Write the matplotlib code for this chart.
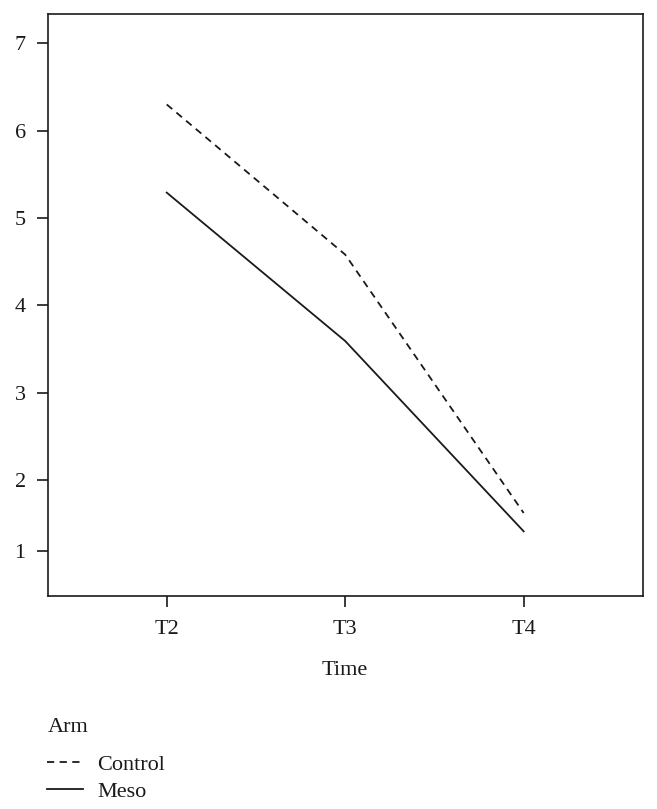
import matplotlib
matplotlib.use("Agg")
import matplotlib.pyplot as plt

times = ["T2", "T3", "T4"]
control = [6.30, 4.58, 1.62]
meso = [5.29, 3.59, 1.41]
ytick_labels = ["1", "2", "3", "4", "5", "6", "7"]
ytick_pos = [1.18, 2, 3, 4, 5, 6, 7]

plt.rcParams['font.family'] = ['Liberation Serif', 'DejaVu Serif']

fig = plt.figure(figsize=(6.57, 8.09), dpi=100)
ax = fig.add_axes([0.0723, 0.2639, 0.9057, 0.7188])

x = list(range(len(times)))
l1, = ax.plot(x, control, color='#1a1a1a', lw=1.3, linestyle=(0, (4, 3)), label='Control')
l2, = ax.plot(x, meso, color='#1a1a1a', lw=1.3, linestyle='-', label='Meso')

ax.set_xlim(-0.668, 2.666)
ax.set_ylim(0.675, 7.336)
ax.set_xticks(x)
ax.set_xticklabels(times)
ax.set_yticks(ytick_pos)
ax.set_yticklabels(ytick_labels)
ax.tick_params(axis='both', direction='out', length=7.7, width=1.2, labelsize=16, color='#1a1a1a', labelcolor='#1a1a1a')
ax.tick_params(axis='x', pad=10)
ax.tick_params(axis='y', pad=8)
for s in ax.spines.values():
    s.set_linewidth(1.2)
    s.set_color('#1a1a1a')
ax.set_xlabel("Time", fontsize=16, labelpad=16, color='#1a1a1a')

fig.text(0.073, 1 - 727 / 809, "Arm", fontsize=16, color='#1a1a1a', va='center', ha='left')
leg = fig.legend(handles=[l1, l2], labels=['Control', 'Meso'],
                 loc='upper left', bbox_to_anchor=(0.072, 1 - 754 / 809), frameon=False,
                 fontsize=16, handlelength=1.6, handletextpad=0.65,
                 labelspacing=0.3, borderaxespad=0, borderpad=0)
for t in leg.get_texts():
    t.set_color('#1a1a1a')

fig.savefig("out.png", dpi=100)
